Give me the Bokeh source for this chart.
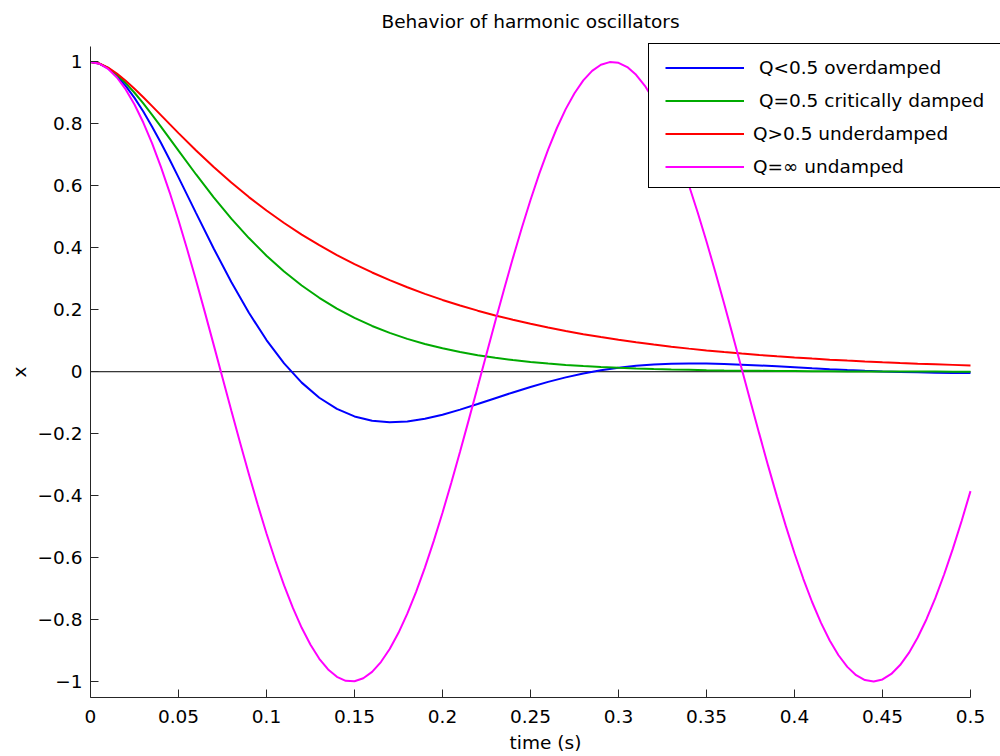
from bokeh.plotting import figure
from bokeh.models import Legend, LegendItem, FixedTicker, Range1d, Label, Title
from bokeh.embed import file_html
from bokeh.resources import INLINE

# ---------------- data ----------------
time_damped = [0.0, 0.005, 0.01, 0.015, 0.02, 0.025, 0.03, 0.035, 0.04, 0.045,
               0.05, 0.06, 0.07, 0.08, 0.09, 0.10, 0.11, 0.12, 0.13, 0.14,
               0.15, 0.16, 0.17, 0.18, 0.19, 0.20, 0.21, 0.22, 0.23, 0.24,
               0.25, 0.26, 0.27, 0.28, 0.29, 0.30, 0.31, 0.32, 0.33, 0.34,
               0.35, 0.36, 0.37, 0.38, 0.39, 0.40, 0.41, 0.42, 0.43, 0.44,
               0.45, 0.46, 0.47, 0.48, 0.49, 0.50]

x_blue = [1.0, 0.99457, 0.97912, 0.95477, 0.92271, 0.88404, 0.83985, 0.79116, 0.73894, 0.68410,
          0.62749, 0.51201, 0.39793, 0.28959, 0.19027, 0.10224, 0.02690, -0.03513, -0.08389, -0.11996,
          -0.14429, -0.15815, -0.16299, -0.16032, -0.15170, -0.13860, -0.12241, -0.10437, -0.08557, -0.06691,
          -0.04912, -0.03274, -0.01817, -0.00565, 0.00471, 0.01290, 0.01900, 0.02317, 0.02561, 0.02655,
          0.02624, 0.02493, 0.02286, 0.02027, 0.01735, 0.01429, 0.01124, 0.00832, 0.00562, 0.00321,
          0.00113, -0.00060, -0.00197, -0.00300, -0.00372, -0.00414]

x_green = [1.0, 0.99476, 0.98047, 0.95898, 0.93190, 0.90057, 0.86611, 0.82947, 0.79145, 0.75267,
           0.71370, 0.63677, 0.56320, 0.49449, 0.43148, 0.37450, 0.32354, 0.27839, 0.23868, 0.20398,
           0.17383, 0.14775, 0.12530, 0.10603, 0.08955, 0.07550, 0.06354, 0.05341, 0.04482, 0.03756,
           0.03145, 0.02630, 0.02197, 0.01833, 0.01528, 0.01273, 0.01059, 0.00881, 0.00732, 0.00608,
           0.00504, 0.00418, 0.00347, 0.00287, 0.00238, 0.00197, 0.00163, 0.00135, 0.00111, 0.00092,
           0.00076, 0.00063, 0.00052, 0.00043, 0.00035, 0.00029]

x_red = [1.0, 0.99494, 0.98168, 0.96261, 0.93947, 0.91360, 0.88599, 0.85739, 0.82833, 0.79922,
         0.77035, 0.71414, 0.66072, 0.61054, 0.56375, 0.52031, 0.48006, 0.44285, 0.40848, 0.37675,
         0.34747, 0.32046, 0.29554, 0.27256, 0.25136, 0.23181, 0.21378, 0.19715, 0.18182, 0.16767,
         0.15463, 0.14260, 0.13151, 0.12128, 0.11185, 0.10315, 0.09512, 0.08772, 0.08090, 0.07461,
         0.06880, 0.06345, 0.05852, 0.05396, 0.04977, 0.04590, 0.04233, 0.03903, 0.03600, 0.03320,
         0.03061, 0.02823, 0.02604, 0.02401, 0.02214, 0.02042]

time_undamped = [0.0, 0.005, 0.01, 0.015, 0.02, 0.025, 0.03, 0.035, 0.04, 0.045,
                 0.05, 0.055, 0.06, 0.065, 0.07, 0.075, 0.08, 0.085, 0.09, 0.095,
                 0.10, 0.105, 0.11, 0.115, 0.12, 0.125, 0.13, 0.135, 0.14, 0.145,
                 0.15, 0.155, 0.16, 0.165, 0.17, 0.175, 0.18, 0.185, 0.19, 0.195,
                 0.20, 0.205, 0.21, 0.215, 0.22, 0.225, 0.23, 0.235, 0.24, 0.245,
                 0.25, 0.255, 0.26, 0.265, 0.27, 0.275, 0.28, 0.285, 0.29, 0.295,
                 0.30, 0.305, 0.31, 0.315, 0.32, 0.325, 0.33, 0.335, 0.34, 0.345,
                 0.35, 0.355, 0.36, 0.365, 0.37, 0.375, 0.38, 0.385, 0.39, 0.395,
                 0.40, 0.405, 0.41, 0.415, 0.42, 0.425, 0.43, 0.435, 0.44, 0.445,
                 0.45, 0.455, 0.46, 0.465, 0.47, 0.475, 0.48, 0.485, 0.49, 0.495,
                 0.50]

x_magenta = [1.0, 0.99439, 0.97761, 0.94986, 0.91145, 0.86281, 0.80448, 0.73712, 0.66148, 0.57842,
             0.48887, 0.39383, 0.29437, 0.19160, 0.08669, -0.01920, -0.12488, -0.22915, -0.33085, -0.42884,
             -0.52201, -0.60932, -0.68979, -0.76252, -0.82669, -0.88158, -0.92658, -0.96117, -0.98497, -0.99772,
             -0.99926, -0.98959, -0.96881, -0.93716, -0.89498, -0.84276, -0.78108, -0.71063, -0.63220, -0.54667,
             -0.45502, -0.35825, -0.25746, -0.15378, -0.04837, 0.05758, 0.16288, 0.26636, 0.36684, 0.46321,
             0.55438, 0.63932, 0.71709, 0.78680, 0.84769, 0.89906, 0.94034, 0.97106, 0.99088, 0.99957,
             0.99705, 0.98334, 0.95858, 0.92307, 0.87719, 0.82147, 0.75652, 0.68309, 0.60198, 0.51412,
             0.42049, 0.32213, 0.22016, 0.11572, 0.00998, -0.09587, -0.20065, -0.30317, -0.40229, -0.49690,
             -0.58592, -0.66837, -0.74332, -0.80992, -0.86743, -0.91521, -0.95271, -0.97951, -0.99532, -0.99996,
             -0.99337, -0.97563, -0.94694, -0.90762, -0.85811, -0.79897, -0.73086, -0.65454, -0.57088, -0.48081,
             -0.38534]

series_labels = [" Q<0.5 overdamped", " Q=0.5 critically damped",
                 "Q>0.5 underdamped", "Q=\u221e undamped"]

x_ticks = [0, 0.05, 0.1, 0.15, 0.2, 0.25, 0.3, 0.35, 0.4, 0.45, 0.5]
x_tick_labels = ["0", "0.05", "0.1", "0.15", "0.2", "0.25", "0.3", "0.35", "0.4", "0.45", "0.5"]
y_ticks = [-1, -0.8, -0.6, -0.4, -0.2, 0, 0.2, 0.4, 0.6, 0.8, 1]
y_tick_labels = ["\u22121", "\u22120.8", "\u22120.6", "\u22120.4", "\u22120.2", "0",
                 "0.2", "0.4", "0.6", "0.8", "1"]
x_limits = (0, 0.5)
y_limits = (-1.05, 1.05)

title_text = "Behavior of harmonic oscillators"
x_label = "time (s)"
y_label = "x"

# ---------------- layout / styling ----------------
FONT = "DejaVu Sans"
FS = "18.5px"
AXIS_COLOR = "#262626"

W, H = 1000, 756
LEFT, RIGHT, TOP, BOTTOM = 90, 970, 46, 697          # axes box in pixels
px_per_x = (RIGHT - LEFT) / (x_limits[1] - x_limits[0])
px_per_y = (BOTTOM - TOP) / (y_limits[1] - y_limits[0])
# the plot frame extends to the right and top edges so that the legend / title
# may overhang the axes box, while the axes themselves keep their bounds
x_end = x_limits[1] + (W - RIGHT) / px_per_x
y_end = y_limits[1] + TOP / px_per_y
y_start = y_limits[0] - 0.5 / px_per_y               # half-pixel shift for crisp 1px lines

p = figure(width=W, height=H, output_backend="svg", toolbar_location=None,
           x_range=Range1d(x_limits[0], x_end), y_range=Range1d(y_start, y_end),
           min_border_left=LEFT, min_border_right=0, min_border_top=0,
           min_border_bottom=H - BOTTOM,
           background_fill_color="white", border_fill_color="white")

p.outline_line_color = None
p.xgrid.visible = False
p.ygrid.visible = False

for ax in (p.xaxis[0], p.yaxis[0]):
    ax.axis_line_color = AXIS_COLOR
    ax.axis_line_width = 1
    ax.major_tick_line_color = AXIS_COLOR
    ax.major_tick_in = 8
    ax.major_tick_out = 0
    ax.minor_tick_line_color = None
    ax.major_label_text_font = FONT
    ax.major_label_text_font_size = FS
    ax.major_label_text_color = "black"
    ax.axis_label_text_font = FONT
    ax.axis_label_text_font_size = FS
    ax.axis_label_text_font_style = "normal"
    ax.axis_label_text_color = "black"

p.xaxis.bounds = x_limits
p.yaxis.bounds = y_limits
p.xaxis.ticker = FixedTicker(ticks=x_ticks)
p.xaxis.major_label_overrides = dict(zip(x_ticks, x_tick_labels))
p.yaxis.ticker = FixedTicker(ticks=y_ticks)
p.yaxis.major_label_overrides = dict(zip(y_ticks, y_tick_labels))
p.xaxis.axis_label = x_label
p.xaxis.major_label_standoff = 12
p.xaxis.axis_label_standoff = 6
p.yaxis.major_label_standoff = 8

# y-axis label, centred on the axes box (not on the taller frame)
ylab = Title(text=y_label, align="left", vertical_align="bottom",
             offset=320, standoff=10,
             text_font=FONT, text_font_size=FS, text_font_style="normal", text_color="black")
p.add_layout(ylab, "left")

# zero reference line across the axes
p.line(x=[x_limits[0], x_limits[1]], y=[0, 0], line_color="black", line_width=1)

r_blue = p.line(time_damped, x_blue, line_color="#0000ff", line_width=2)
r_green = p.line(time_damped, x_green, line_color="#00aa00", line_width=2)
r_red = p.line(time_damped, x_red, line_color="#ff0000", line_width=2)
r_mag = p.line(time_undamped, x_magenta, line_color="#ff00ff", line_width=2)

# title (placed in screen pixels, relative to the frame's bottom-left)
title = Label(x=(LEFT + RIGHT) / 2 - LEFT, y=BOTTOM - 21, x_units="screen", y_units="screen",
              text=title_text, text_align="center", text_baseline="middle",
              text_font=FONT, text_font_size=FS, text_color="black")
p.add_layout(title)

# legend frame (white box with black border, overhangs the right edge)
box_dummy = p.line(x=[], y=[], line_alpha=0)
legend_box = Legend(items=[LegendItem(label=" ", renderers=[box_dummy])],
                    location=(648 - LEFT, BOTTOM - 188), padding=0, spacing=0, margin=0,
                    glyph_width=370, glyph_height=143, label_width=0, label_height=143,
                    label_standoff=0, label_text_alpha=0,
                    border_line_color="black", border_line_width=1, border_line_alpha=1,
                    background_fill_color="white", background_fill_alpha=1)
p.add_layout(legend_box)

legend_items = Legend(items=[LegendItem(label=lab, renderers=[r])
                             for lab, r in zip(series_labels, [r_blue, r_green, r_red, r_mag])],
                      location=(665 - LEFT, BOTTOM - 182.5), padding=0, spacing=0, margin=0,
                      glyph_width=79, glyph_height=33, label_height=33, label_standoff=9,
                      label_text_font=FONT, label_text_font_size=FS, label_text_color="black",
                      border_line_alpha=0, background_fill_alpha=0)
p.add_layout(legend_items)

open("out.html", "w").write(file_html(p, INLINE))
